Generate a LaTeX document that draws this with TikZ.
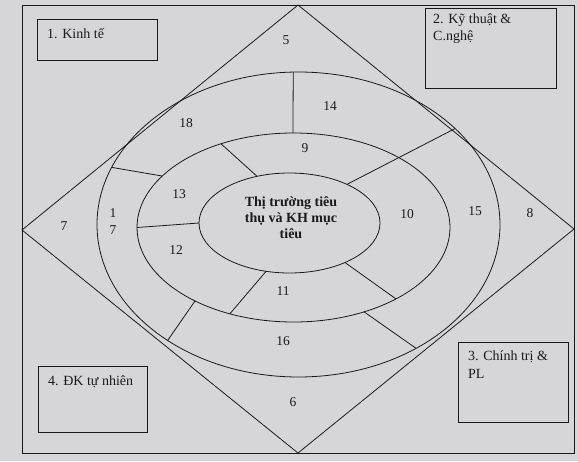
\documentclass[tikz,border=0pt]{standalone}
\usepackage{fontspec}
\setmainfont{Liberation Serif}
\usetikzlibrary{calc}
\definecolor{paper}{RGB}{214,214,216}
\definecolor{ink}{RGB}{25,25,28}
\begin{document}
\begin{tikzpicture}[x=1pt,y=-1pt,
  line/.style={line width=0.8pt, draw=ink},
  num/.style={font=\fontsize{13.5}{17}\selectfont, inner sep=0pt, text=ink},
  lbl/.style={font=\fontsize{14}{17}\selectfont, inner sep=0pt, anchor=base west, text=ink},
  box/.style={line, rectangle, inner sep=0pt, outer sep=0pt, anchor=north west}]
\fill[paper] (0,0) rectangle (578,461);
\useasboundingbox (0,0) rectangle (578,461);
% frame
\draw[line] (22,5) rectangle (574,453);
% diamond
\coordinate (dT) at (298,5);
\coordinate (dR) at (574,229);
\coordinate (dB) at (298,453);
\coordinate (dL) at (22,230);
\draw[line] (dT) -- (dR) -- (dB) -- (dL) -- cycle;
% ellipses
\coordinate (c1) at (289.5,223);
\coordinate (c2) at (293.5,227.5);
\coordinate (c3) at (298.5,224.5);
\draw[line] (c3) ellipse [x radius=201.5pt, y radius=152.5pt];
\draw[line] (c2) ellipse [x radius=156.5pt, y radius=94.5pt];
\draw[line] (c1) ellipse [x radius=90.5pt, y radius=50pt];
% radial dividers
\coordinate (r14a) at ($(c3)+(91.5:201.5pt and 152.5pt)$);
\coordinate (r14b) at ($(c2)+(90.2:156.5pt and 94.5pt)$);
\draw[line] (r14a) -- (r14b);
\coordinate (r9a) at ($(c2)+(117.6:156.5pt and 94.5pt)$);
\coordinate (r9b) at ($(c1)+(111:90.5pt and 50pt)$);
\draw[line] (r9a) -- (r9b);
\coordinate (r18a) at ($(c3)+(158:201.5pt and 152.5pt)$);
\coordinate (r18b) at ($(c2)+(147:156.5pt and 94.5pt)$);
\draw[line] (r18a) -- (r18b);
\coordinate (r13a) at ($(c2)+(180:156.5pt and 94.5pt)$);
\coordinate (r13b) at ($(c1)+(180:90.5pt and 50pt)$);
\draw[line] (r13a) -- (r13b);
\coordinate (r10a) at ($(c1)+(50.6:90.5pt and 50pt)$);
\coordinate (r10b) at ($(c3)+(39:201.5pt and 152.5pt)$);
\draw[line] (r10a) -- (r10b);
\coordinate (r12a) at ($(c1)+(255:90.5pt and 50pt)$);
\coordinate (r12b) at ($(c2)+(246:156.5pt and 94.5pt)$);
\draw[line] (r12a) -- (r12b);
\coordinate (r11a) at ($(c1)+(307.8:90.5pt and 50pt)$);
\coordinate (r11b) at ($(c2)+(310.9:156.5pt and 94.5pt)$);
\draw[line] (r11a) -- (r11b);
\coordinate (r16a) at ($(c2)+(296.8:156.5pt and 94.5pt)$);
\coordinate (r16b) at ($(c3)+(305.7:201.5pt and 152.5pt)$);
\draw[line] (r16a) -- (r16b);
\coordinate (r17a) at ($(c2)+(231:156.5pt and 94.5pt)$);
\coordinate (r17b) at ($(c3)+(229.5:201.5pt and 152.5pt)$);
\draw[line] (r17a) -- (r17b);
% region numbers
\node[num] (n5) at (286,40) {5};
\node[num] (n14) at (330,106) {14};
\node[num] (n18) at (186,123) {18};
\node[num] (n9) at (305,148) {9};
\node[num] (n13) at (179,194) {13};
\node[num] (n10) at (407,214) {10};
\node[num] (n15) at (475,211) {15};
\node[num] (n8) at (530,213) {8};
\node[num] (n7) at (64,226) {7};
\node[num, align=center] (n17) at (113,221.5) {1\\7};
\node[num] (n12) at (176,250) {12};
\node[num] (n11) at (283,291) {11};
\node[num] (n16) at (283,341) {16};
\node[num] (n6) at (293,402) {6};
% centre
\node[font=\bfseries\fontsize{14}{16}\selectfont, align=center, inner sep=0pt, text=ink] (core) at (291,218) {Thị trường tiêu\\thụ và KH mục\\tiêu};
% boxes
\node[box, minimum width=120pt, minimum height=41pt] (b1) at (37,19) {};
\node[lbl] (t1) at (47,38) {1. Kinh tế};
\node[box, minimum width=131pt, minimum height=80pt] (b2) at (425,8) {};
\node[lbl] (t2a) at (433,23) {2. Kỹ thuật \&};
\node[lbl] (t2b) at (433,40) {C.nghệ};
\node[box, minimum width=110pt, minimum height=80pt] (b3) at (458,342) {};
\node[lbl] (t3a) at (468,360) {3. Chính trị \&};
\node[lbl] (t3b) at (468,378) {PL};
\node[box, minimum width=109pt, minimum height=66pt] (b4) at (38,366) {};
\node[lbl] (t4) at (48,385) {4. ĐK tự nhiên};
\end{tikzpicture}
\end{document}
